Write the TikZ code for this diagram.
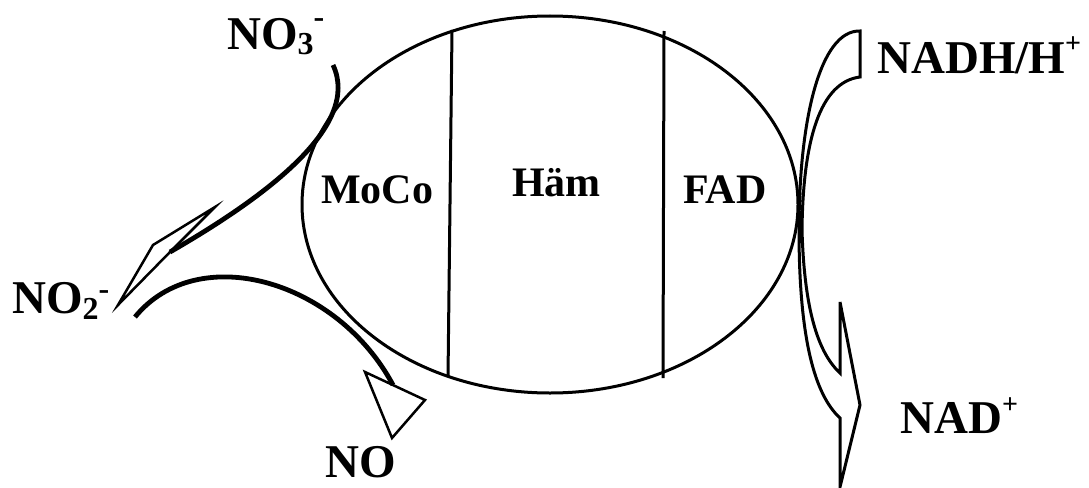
\documentclass[tikz,border=0pt]{standalone}
\usepackage{fontspec}
\setmainfont{Liberation Serif}
\usetikzlibrary{shapes.geometric}
\newcommand{\subsz}{\fontsize{32}{34}\selectfont}
\newcommand{\supsz}{\fontsize{28}{30}\selectfont}
\tikzset{
  outl/.style={line width=3pt},
  thickarr/.style={line width=4.8pt},
  headst/.style={line width=2.5pt, line join=miter},
  rightarr/.style={line width=3pt, line join=miter},
  lbl/.style={font=\fontsize{47}{50}\selectfont\bfseries, inner sep=0pt, anchor=base west},
  inlbl/.style={font=\fontsize{42}{45}\selectfont\bfseries, inner sep=0pt, anchor=base west},
}
\begin{document}
\begin{tikzpicture}[x=1pt,y=-1pt]
\useasboundingbox (0,0) rectangle (1089,487);
% enzyme body
\node[draw, ellipse, outl, minimum width=496pt, minimum height=377pt, inner sep=0pt] (enz) at (550,204.5) {};
\coordinate (d1t) at (452,30);  \coordinate (d1b) at (448,377);
\coordinate (d2t) at (664,31);  \coordinate (d2b) at (663,378);
\draw[outl] (d1t) -- (d1b);
\draw[outl] (d2t) -- (d2b);
\node[inlbl] (moco) at (321,203) {MoCo};
\node[inlbl] (haem) at (512,196) {Häm};
\node[inlbl] (fad)  at (683,203) {FAD};
% labels
\node[lbl] (no3) at (227,50) {NO\raisebox{-5pt}{\subsz 3}\raisebox{22pt}{\subsz -}};
\node[lbl] (no2) at (12,313) {NO\raisebox{-6pt}{\subsz 2}\raisebox{14pt}{\subsz -}};
\node[lbl] (no)  at (325,477) {NO};
\node[lbl] (nadh) at (877,74) {NADH/H\raisebox{21pt}{\supsz +}};
\node[lbl] (nad) at (900,433) {NAD\raisebox{20pt}{\supsz +}};
% NO3- -> NO2- arrow
\coordinate (a1s) at (333,65);
\coordinate (a1e) at (170,252);
\draw[thickarr] (a1s) .. controls (361,125) and (269,195) .. (a1e);
\coordinate (h1a) at (215,207);
\coordinate (h1b) at (153,245);
\coordinate (h1c) at (118,305);
\draw[headst] (h1a) -- (h1b) -- (h1c) -- (a1e) -- cycle;
% NO2- -> NO arrow
\coordinate (a2s) at (135,317);
\coordinate (a2e) at (393,385);
\draw[thickarr] (a2s) .. controls (198,240) and (337,280) .. (a2e);
\coordinate (h2a) at (365,372);
\coordinate (h2b) at (425,400);
\coordinate (h2c) at (392,438);
\draw[headst] (h2a) -- (h2b) -- (h2c) -- cycle;
% NADH -> NAD+ arrow
\coordinate (r1) at (860,31);
\coordinate (r2) at (799,230);
\coordinate (r3) at (840,418);
\coordinate (r4) at (840,487);
\coordinate (r5) at (860,405);
\coordinate (r6) at (840,302);
\coordinate (r7) at (840,373);
\coordinate (r8) at (802,230);
\coordinate (r9) at (860,77);
\draw[rightarr] (r1) .. controls (820,30) and (799,120) .. (r2)
  .. controls (799,340) and (815,395) .. (r3) -- (r4) -- (r5) -- (r6) -- (r7)
  .. controls (815,350) and (804,300) .. (r8)
  .. controls (803,140) and (820,82) .. (r9) -- cycle;
\end{tikzpicture}
\end{document}
